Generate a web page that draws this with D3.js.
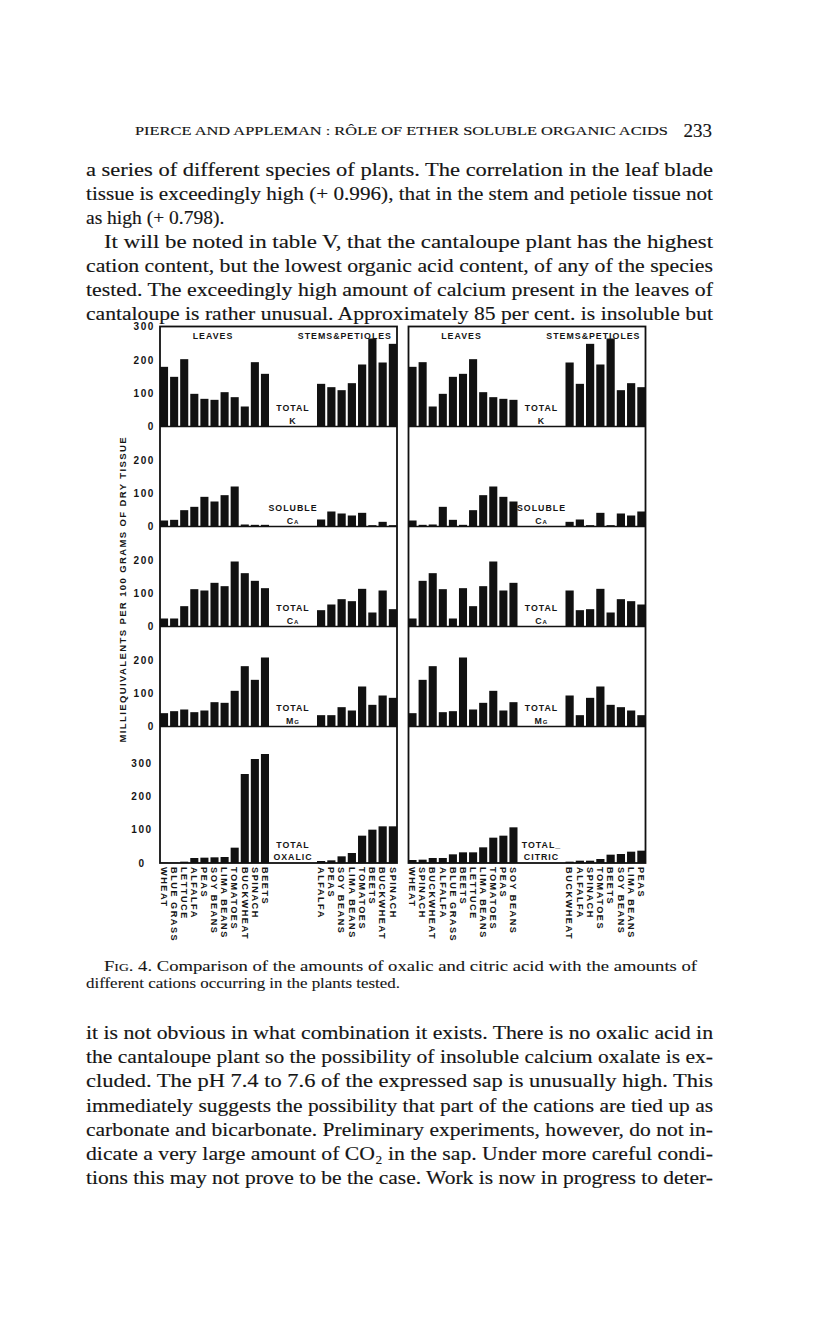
<!DOCTYPE html>
<html>
<head>
<meta charset="utf-8">
<script src="https://cdn.jsdelivr.net/npm/d3@7"></script>
<style>
  body { margin: 0; background: #fff; }
  svg text { fill: #151515; }
  .serif { font-family: "Liberation Serif", "DejaVu Serif", serif; stroke: #151515; stroke-width: 0.15px; }
  .lab { font-family: "Liberation Sans", "DejaVu Sans", sans-serif; font-weight: bold; }
</style>
</head>
<body>
<svg id="page" width="816" height="1329"></svg>
<script>
// ---- data (milliequivalents per 100 g dry tissue) ----
var leafPlants = ["WHEAT", "BLUE GRASS", "LETTUCE", "ALFALFA", "PEAS", "SOY BEANS",
                  "LIMA BEANS", "TOMATOES", "BUCKWHEAT", "SPINACH", "BEETS"];
var leafK      = [179, 149, 202, 98, 83, 80, 103, 88, 60, 193, 158];
var leafSolCa  = [18, 20, 49, 59, 89, 75, 94, 120, 6, 5, 5];
var leafTotCa  = [24, 24, 61, 112, 108, 131, 121, 195, 160, 137, 115];
var leafMg     = [40, 46, 51, 43, 48, 73, 71, 107, 181, 140, 207];
var leafOxalic = [1, 1, 4, 15, 16, 17, 18, 46, 267, 312, 327];
var leafCitric = [9, 26, 32, 15, 82, 107, 47, 76, 15, 10, 32];

var stemPlants = ["ALFALFA", "PEAS", "SOY BEANS", "LIMA BEANS", "TOMATOES", "BEETS", "BUCKWHEAT", "SPINACH"];
var stemK      = [128, 118, 109, 130, 186, 264, 192, 248];
var stemSolCa  = [21, 45, 39, 33, 41, 4, 14, 4];
var stemTotCa  = [49, 66, 82, 76, 113, 42, 108, 52];
var stemMg     = [34, 34, 58, 48, 120, 65, 93, 86];
var stemOxalic = [6, 8, 20, 30, 82, 100, 110, 110];
var stemCitric = [7, 37, 27, 34, 12, 25, 4, 7];

// order of the bars in each half of the figure
var oxalicLeafOrder = leafPlants;
var oxalicStemOrder = stemPlants;
var citricLeafOrder = ["WHEAT", "SPINACH", "BUCKWHEAT", "ALFALFA", "BLUE GRASS", "BEETS",
                       "LETTUCE", "LIMA BEANS", "TOMATOES", "PEAS", "SOY BEANS"];
var citricStemOrder = ["BUCKWHEAT", "ALFALFA", "SPINACH", "TOMATOES", "BEETS", "SOY BEANS", "LIMA BEANS", "PEAS"];

var ticksTop = [0, 100, 200, 300];
var ticksMid = [0, 100, 200];
var yTitle = "MILLIEQUIVALENTS PER 100 GRAMS OF DRY TISSUE";

// ---- page text ----
var runningHead = "PIERCE AND APPLEMAN : RÔLE OF ETHER SOLUBLE ORGANIC ACIDS";
var pageNo = "233";
var topLines = [
  "a series of different species of plants.  The correlation in the leaf blade",
  "tissue is exceedingly high (+ 0.996), that in the stem and petiole tissue not",
  "as high (+ 0.798).",
  "It will be noted in table V, that the cantaloupe plant has the highest",
  "cation content, but the lowest organic acid content, of any of the species",
  "tested.  The exceedingly high amount of calcium present in the leaves of",
  "cantaloupe is rather unusual.  Approximately 85 per cent. is insoluble but"
];
var captionLines = [
  "Fig. 4.  Comparison of the amounts of oxalic and citric acid with the amounts of",
  "different cations occurring in the plants tested."
];
var bottomLines = [
  "it is not obvious in what combination it exists.  There is no oxalic acid in",
  "the cantaloupe plant so the possibility of insoluble calcium oxalate is ex-",
  "cluded.  The pH 7.4 to 7.6 of the expressed sap is unusually high.  This",
  "immediately suggests the possibility that part of the cations are tied up as",
  "carbonate and bicarbonate.  Preliminary experiments, however, do not in-",
  "dicate a very large amount of CO₂ in the sap.  Under more careful condi-",
  "tions this may not prove to be the case.  Work is now in progress to deter-"
];

var svg = d3.select("#page");
var textLeft = 86, textRight = 713;

// running head + page number
svg.append("text").attr("class", "serif")
  .attr("x", 135).attr("y", 135)
  .attr("font-size", 13.5)
  .attr("textLength", 533).attr("lengthAdjust", "spacingAndGlyphs")
  .text(runningHead);
svg.append("text").attr("class", "serif")
  .attr("x", 712).attr("y", 137).attr("text-anchor", "end")
  .attr("font-size", 19)
  .text(pageNo);

function para(lines, y0, step, size, indent, ragged) {
  svg.append("g").attr("class", "serif").attr("font-size", size)
    .selectAll("text").data(lines).join("text")
    .attr("x", function(d, i) { return indent.indexOf(i) >= 0 ? textLeft + 18 : textLeft; })
    .attr("y", function(d, i) { return y0 + i * step; })
    .each(function(d, i) {
      if (ragged.indexOf(i) < 0) {
        var x = indent.indexOf(i) >= 0 ? textLeft + 18 : textLeft;
        d3.select(this).attr("textLength", textRight - x).attr("lengthAdjust", "spacingAndGlyphs");
      }
    })
    .text(function(d) { return d; });
}

para(topLines, 175.5, 24.05, 19.5, [3], [2]);
para(bottomLines, 1039, 24.2, 19.5, [], []);

// caption, "Fig." in small caps
var cap = svg.append("g").attr("class", "serif").attr("font-size", 15).style("stroke-width", "0.1px");
captionLines.forEach(function(line, i) {
  var t = cap.append("text").attr("x", i === 0 ? textLeft + 18 : textLeft).attr("y", 970.5 + i * 17);
  var m = line.match(/^(Fig\. 4\.)(.*)$/);
  if (m) {
    t.attr("textLength", 697 - textLeft - 18).attr("lengthAdjust", "spacingAndGlyphs");
    t.append("tspan").style("font-variant", "small-caps").text(m[1]);
    t.append("tspan").text(m[2]);
  } else {
    t.attr("textLength", 400 - textLeft).attr("lengthAdjust", "spacingAndGlyphs").text(line);
  }
});

// ---- chart ----
var panelW = 237, chartTop = 326.5, chartBottom = 863, rowH = 100;

var baseRows = [
  { name: ["TOTAL", "K"],       leaf: leafK,     stem: stemK,     ticks: ticksTop },
  { name: ["SOLUBLE", "Ca"],    leaf: leafSolCa, stem: stemSolCa, ticks: ticksMid },
  { name: ["TOTAL", "Ca"],      leaf: leafTotCa, stem: stemTotCa, ticks: ticksMid },
  { name: ["TOTAL", "Mg"],      leaf: leafMg,    stem: stemMg,    ticks: ticksMid }
];

var panels = [
  { x0: 160, leaves: oxalicLeafOrder, stems: oxalicStemOrder, axis: true,
    rows: baseRows.concat([{ name: ["TOTAL", "OXALIC"], leaf: leafOxalic, stem: stemOxalic, ticks: ticksTop }]) },
  { x0: 408.5, leaves: citricLeafOrder, stems: citricStemOrder, axis: false,
    rows: baseRows.concat([{ name: ["TOTAL_", "CITRIC"], leaf: leafCitric, stem: stemCitric, ticks: ticksTop }]) }
];

panels.forEach(function(p) {
  var g = svg.append("g").attr("transform", "translate(" + p.x0 + ",0)");

  var xl = d3.scaleBand().domain(p.leaves).range([0, 109]).paddingInner(0.2);
  var xs = d3.scaleBand().domain(p.stems).range([157, panelW]).paddingInner(0.2);
  var gapMid = (109 + 157) / 2;

  p.rows.forEach(function(r, k) {
    var last = k === p.rows.length - 1;
    var top = chartTop + k * rowH;
    var base = last ? chartBottom : top + rowH;
    var y = d3.scaleLinear().domain([0, (base - top) * 3]).range([base, top]);

    var bars = p.leaves.map(function(n) { return { x: xl(n), w: xl.bandwidth(), v: r.leaf[leafPlants.indexOf(n)] }; })
      .concat(p.stems.map(function(n) { return { x: xs(n), w: xs.bandwidth(), v: r.stem[stemPlants.indexOf(n)] }; }));

    g.append("g").selectAll("rect").data(bars).join("rect")
      .attr("x", function(d) { return d.x; })
      .attr("width", function(d) { return d.w; })
      .attr("y", function(d) { return y(d.v); })
      .attr("height", function(d) { return base - y(d.v); })
      .attr("fill", "#111");

    if (!last) {
      g.append("line").attr("x1", 0).attr("x2", panelW).attr("y1", base).attr("y2", base)
        .attr("stroke", "#111").attr("stroke-width", 1.6);
    }

    var lab = g.append("g").attr("class", "lab").attr("font-size", 8.8)
      .attr("letter-spacing", 1).attr("text-anchor", "middle");
    lab.append("text").attr("x", gapMid).attr("y", base - 15.5).text(r.name[0]);
    lab.append("text").attr("x", gapMid).attr("y", base - 3)
      .style("font-variant", "small-caps").text(r.name[1]);

    if (p.axis) {
      var ax = g.append("g")
        .call(d3.axisLeft(y).tickValues(r.ticks).tickSize(0).tickPadding(5).tickFormat(d3.format("d")));
      ax.select(".domain").remove();
      ax.attr("font-family", null).attr("font-size", 10);
      ax.selectAll("text").attr("class", "lab").attr("letter-spacing", 1.6);
      if (last) ax.selectAll("text").attr("text-anchor", "middle").attr("x", -18);
    }
  });

  // frame
  g.append("rect").attr("x", 0).attr("y", chartTop).attr("width", panelW).attr("height", chartBottom - chartTop)
    .attr("fill", "none").attr("stroke", "#111").attr("stroke-width", 1.8);

  // column headings
  var hd = g.append("g").attr("class", "lab").attr("font-size", 8.8).attr("letter-spacing", 1);
  hd.append("text").attr("x", 53).attr("y", 338.5).attr("text-anchor", "middle").text("LEAVES");
  hd.append("text").attr("x", panelW - 5).attr("y", 338.5).attr("text-anchor", "end").text("STEMS&PETIOLES");

  // plant names under the bars
  var names = p.leaves.map(function(n) { return { n: n, x: xl(n) + xl.bandwidth() / 2 }; })
    .concat(p.stems.map(function(n) { return { n: n, x: xs(n) + xs.bandwidth() / 2 }; }));
  g.append("g").attr("class", "lab").attr("font-size", 9.2).attr("letter-spacing", 1.5)
    .selectAll("text").data(names).join("text")
    .attr("transform", function(d) { return "translate(" + d.x + "," + (chartBottom + 4) + ") rotate(90)"; })
    .attr("dy", "0.35em")
    .text(function(d) { return d.n; });
});

// y-axis title
svg.append("text").attr("class", "lab")
  .attr("transform", "translate(123,590) rotate(-90)")
  .attr("text-anchor", "middle").attr("dy", "0.35em")
  .attr("font-size", 9.5)
  .attr("textLength", 305).attr("lengthAdjust", "spacing")
  .text(yTitle);
</script>
</body>
</html>
